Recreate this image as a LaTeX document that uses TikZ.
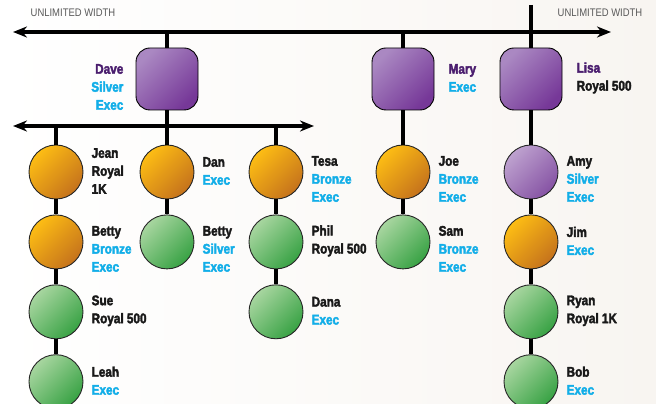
\documentclass[tikz,border=0pt]{standalone}
\usepackage{fontspec}
\newfontfamily\tagfont[FakeStretch=0.84,BoldFeatures={FakeBold=2.5}]{Liberation Sans}
\newfontfamily\capsfont[FakeStretch=0.86]{Liberation Sans}
\usetikzlibrary{arrows.meta,positioning}

\definecolor{bgright}{RGB}{248,245,241}
\definecolor{boxlight}{HTML}{AA88C2}
\definecolor{boxdark}{HTML}{763898}
\definecolor{goldlight}{HTML}{FDBD14}
\definecolor{golddark}{HTML}{C5721C}
\definecolor{greenlight}{HTML}{A8D6A0}
\definecolor{greendark}{HTML}{38A244}
\definecolor{lilaclight}{HTML}{BEA2CF}
\definecolor{lilacdark}{HTML}{8653A4}
\definecolor{tiercyan}{HTML}{12AEE8}
\definecolor{namepurple}{HTML}{4A1D6E}

\newcommand{\tier}[1]{\textcolor{tiercyan}{#1}}
\newcommand{\boss}[1]{\textcolor{namepurple}{#1}}

\begin{document}
\begin{tikzpicture}[x=1pt,y=1pt,
  bus/.style={line width=3.6pt,{Stealth[length=14pt,width=11pt]}-{Stealth[length=14pt,width=11pt]}},
  link/.style={line width=3.6pt},
  boss node/.style={rectangle,rounded corners=14pt,minimum size=62pt,inner sep=0pt,
    draw=black,line width=0.9pt,top color=boxlight,bottom color=boxdark,shading angle=45},
  member node/.style={circle,minimum size=54pt,inner sep=0pt,draw=black!85,line width=0.9pt},
  gold node/.style={member node,top color=goldlight,bottom color=golddark,shading angle=45},
  green node/.style={member node,top color=greenlight,bottom color=greendark,shading angle=45},
  lilac node/.style={member node,top color=lilaclight,bottom color=lilacdark,shading angle=45},
  tag/.style={font=\tagfont\bfseries\fontsize{14}{18}\selectfont,align=left,inner sep=0pt,text=black!90},
  caps/.style={font=\capsfont\fontsize{11}{12}\selectfont,text=black!65},
  node distance=15pt]

  % background
  \shade[left color=white,right color=bgright,shading angle=90]
    (0,0) rectangle (656,404);
  \useasboundingbox (0,0) rectangle (656,404);

  \node[caps] (leftcap) at (73,391) {UNLIMITED WIDTH};
  \node[caps] (rightcap) at (600,391) {UNLIMITED WIDTH};

  % bus lines
  \coordinate (busL) at (13,372);
  \coordinate (busR) at (611,372);
  \coordinate (subL) at (13,278);
  \coordinate (subR) at (314,278);
  \coordinate (lisatop) at (531,399);

  % top level
  \node[boss node] (dave) at (167,325) {};
  \node[boss node] (mary) at (403,325) {};
  \node[boss node] (lisa) at (531,325) {};

  % Dave's people
  \node[gold node] (jean) at (56,232) {};
  \node[gold node] (bettyb) [below=of jean] {};
  \node[green node] (sue) [below=of bettyb] {};
  \node[green node] (leah) [below=of sue] {};
  \node[gold node] (dan) at (167,232) {};
  \node[green node] (bettys) [below=of dan] {};
  \node[gold node] (tesa) at (276,232) {};
  \node[green node] (phil) [below=of tesa] {};
  \node[green node] (dana) [below=of phil] {};

  % Mary's people
  \node[gold node] (joe) at (403,232) {};
  \node[green node] (sam) [below=of joe] {};

  % Lisa's people
  \node[lilac node] (amy) at (531,232) {};
  \node[gold node] (jim) [below=of amy] {};
  \node[green node] (ryan) [below=of jim] {};
  \node[green node] (bob) [below=of ryan] {};

  % connectors
  \draw[bus] (busL) -- (busR);
  \draw[bus] (subL) -- (subR);
  \path[link] (dave.north) edge (dave |- busL)
    (mary.north) edge (mary |- busL)
    (lisatop) edge (lisa.north)
    (dave.south) edge (dave |- subL)
    (jean.north) edge (jean |- subL)
    (dan.north) edge (dan |- subL)
    (tesa.north) edge (tesa |- subL)
    (jean) edge (bettyb) (bettyb) edge (sue) (sue) edge (leah)
    (dan) edge (bettys)
    (tesa) edge (phil) (phil) edge (dana)
    (mary) edge (joe) (joe) edge (sam)
    (lisa) edge (amy) (amy) edge (jim) (jim) edge (ryan) (ryan) edge (bob);

  % labels
  \node[tag,align=right,left=12pt of dave,yshift=-8pt] (davetag) {\boss{Dave}\\\tier{Silver}\\\tier{Exec}};
  \node[tag,right=14pt of mary,yshift=1pt] (marytag) {\boss{Mary}\\\tier{Exec}};
  \node[tag,right=14pt of lisa,yshift=1pt] (lisatag) {\boss{Lisa}\\Royal 500};

  \node[tag,right=8pt of jean,yshift=1pt] (jeantag) {Jean\\Royal\\1K};
  \node[tag,right=8pt of bettyb,yshift=-7pt] (bettybtag) {Betty\\\tier{Bronze}\\\tier{Exec}};
  \node[tag,right=8pt of sue,yshift=1pt] (suetag) {Sue\\Royal 500};
  \node[tag,right=8pt of leah,yshift=1pt] (leahtag) {Leah\\\tier{Exec}};
  \node[tag,right=8pt of dan,yshift=1pt] (dantag) {Dan\\\tier{Exec}};
  \node[tag,right=8pt of bettys,yshift=-7pt] (bettystag) {Betty\\\tier{Silver}\\\tier{Exec}};
  \node[tag,right=8pt of tesa,yshift=-7pt] (tesatag) {Tesa\\\tier{Bronze}\\\tier{Exec}};
  \node[tag,right=8pt of phil,yshift=1pt] (philtag) {Phil\\Royal 500};
  \node[tag,right=8pt of dana,yshift=1pt] (danatag) {Dana\\\tier{Exec}};
  \node[tag,right=8pt of joe,yshift=-7pt] (joetag) {Joe\\\tier{Bronze}\\\tier{Exec}};
  \node[tag,right=8pt of sam,yshift=-7pt] (samtag) {Sam\\\tier{Bronze}\\\tier{Exec}};
  \node[tag,right=8pt of amy,yshift=-7pt] (amytag) {Amy\\\tier{Silver}\\\tier{Exec}};
  \node[tag,right=8pt of jim,yshift=1pt] (jimtag) {Jim\\\tier{Exec}};
  \node[tag,right=8pt of ryan,yshift=1pt] (ryantag) {Ryan\\Royal 1K};
  \node[tag,right=8pt of bob,yshift=1pt] (bobtag) {Bob\\\tier{Exec}};
\end{tikzpicture}
\end{document}
